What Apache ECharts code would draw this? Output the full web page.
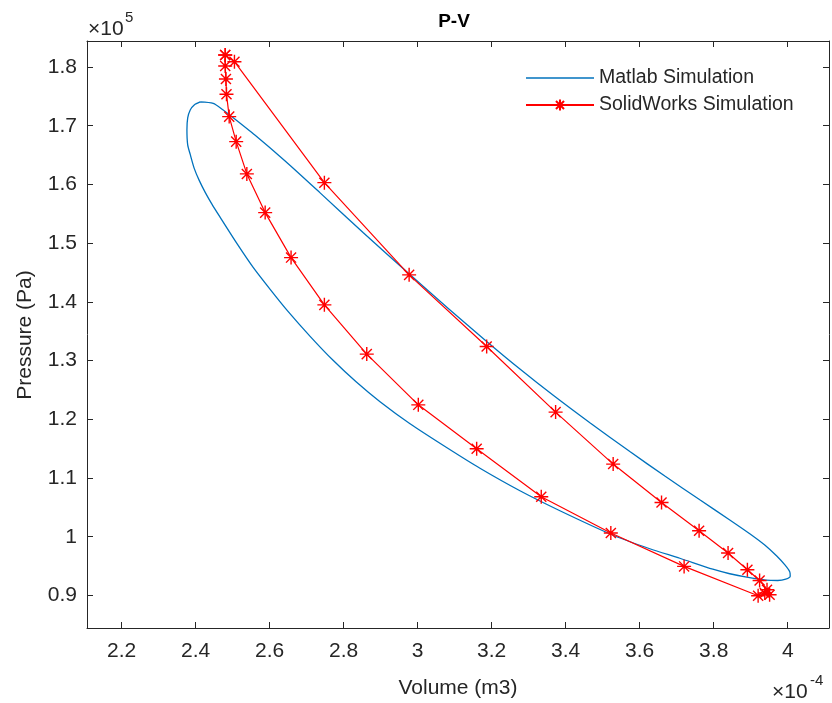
<!DOCTYPE html>
<html>
<head>
<meta charset="utf-8">
<script src="https://cdn.jsdelivr.net/npm/echarts@6/dist/echarts.min.js"></script>
<style>html,body{margin:0;padding:0;background:#fff}#c{width:832px;height:703px}</style>
</head>
<body>
<div id="c"></div>
<script>
// Volume in units of 1e-4 m3, Pressure in units of 1e5 Pa
const matlabV = [2.4125,2.4476,2.4746,2.4908,2.5610,2.6420,2.7365,2.8525,2.9767,3.0820,3.1873,3.2764,3.3655,3.4654,3.5734,3.6679,3.7624,3.8434,3.8974,3.9379,3.9703,3.9918,4.0054,4.0067,3.9946,3.9730,3.9405,3.8893,3.8434,3.7975,3.7084,3.6274,3.5221,3.3844,3.2764,3.1684,3.0793,2.9794,2.8984,2.8337,2.7715,2.7095,2.6474,2.6015,2.5556,2.5124,2.4665,2.4449,2.4260,2.4098,2.3963,2.3855,2.3787,2.3766,2.3787,2.3855,2.3963,2.4125];
const matlabP = [1.7405,1.7379,1.7269,1.7192,1.6838,1.6399,1.5856,1.5181,1.4477,1.3893,1.3322,1.2856,1.2412,1.1940,1.1450,1.1033,1.0628,1.0285,1.0050,0.9858,0.9671,0.9523,0.9403,0.9327,0.9276,0.9254,0.9262,0.9310,0.9369,0.9446,0.9633,0.9795,1.0042,1.0442,1.0782,1.1165,1.1514,1.1923,1.2298,1.2638,1.3004,1.3413,1.3855,1.4213,1.4587,1.4987,1.5439,1.5656,1.5865,1.6069,1.6274,1.6511,1.6673,1.6928,1.7132,1.7269,1.7354,1.7405];
const swV = [2.480,2.505,2.748,2.977,3.1865,3.3728,3.5283,3.659,3.7605,3.8388,3.891,3.924,3.944,3.951,3.938,3.920,3.720,3.522,3.334,3.1595,3.0018,2.8625,2.748,2.658,2.588,2.5385,2.5097,2.4908,2.4835,2.482,2.480,2.480];
const swP = [1.8205,1.809,1.603,1.446,1.3239,1.2122,1.1237,1.0583,1.0101,0.9722,0.9438,0.9255,0.9097,0.9012,0.9041,0.8995,0.9494,1.0062,1.068,1.1497,1.2246,1.311,1.3949,1.4754,1.552,1.6179,1.6729,1.7155,1.7536,1.7796,1.8018,1.8205];
const xTicks = [2.2,2.4,2.6,2.8,3.0,3.2,3.4,3.6,3.8,4.0];
const yTicks = [0.9,1.0,1.1,1.2,1.3,1.4,1.5,1.6,1.7,1.8];
const seriesNames = ['Matlab Simulation','SolidWorks Simulation'];

const FONT = 'Liberation Sans, Arial, Helvetica, sans-serif';
const AX = '#262626';
const fmt = v => String(Math.round(v * 10) / 10);
const star = 'path://M0,-1L0,1M-1,0L1,0M-0.72,-0.72L0.72,0.72M-0.72,0.72L0.72,-0.72';

const xMin = 2.1066, xMax = 4.1115, yMin = 0.8445, yMax = 1.8443;

function xAxisCfg(pos, labels) {
  return {
    type: 'value', position: pos, min: xMin, max: xMax,
    axisLine: { show: true, onZero: false, lineStyle: { color: AX, width: 1 } },
    axisTick: { show: true, inside: true, length: 6, customValues: xTicks, lineStyle: { color: AX } },
    axisLabel: { show: labels, customValues: xTicks, formatter: fmt, margin: 13, color: AX, fontSize: 21, fontFamily: FONT },
    splitLine: { show: false }
  };
}
function yAxisCfg(pos, labels) {
  return {
    type: 'value', position: pos, min: yMin, max: yMax,
    axisLine: { show: true, onZero: false, lineStyle: { color: AX, width: 1 } },
    axisTick: { show: true, inside: true, length: 6, customValues: yTicks, lineStyle: { color: AX } },
    axisLabel: { show: labels, customValues: yTicks, formatter: fmt, margin: 10, color: AX, fontSize: 21, fontFamily: FONT },
    splitLine: { show: false }
  };
}

const chart = echarts.init(document.getElementById('c'), null, { renderer: 'canvas' });
chart.setOption({
  animation: false,
  backgroundColor: '#fff',
  grid: { left: 87, right: 3, top: 41, bottom: 75, containLabel: false },
  xAxis: [xAxisCfg('bottom', true), xAxisCfg('top', false)],
  yAxis: [yAxisCfg('left', true), yAxisCfg('right', false)],
  legend: {
    orient: 'vertical', left: 520, top: 63, itemWidth: 68, itemHeight: 14, itemGap: 7,
    textStyle: { fontSize: 19.5, color: AX, fontFamily: FONT },
    data: [
      { name: seriesNames[0], icon: 'path://M0,0L68,0L68,1.3L0,1.3Z' },
      { name: seriesNames[1] }
    ]
  },
  graphic: [
    { type: 'text', x: 454, y: 22, style: { text: 'P-V', font: 'bold 19px ' + FONT, fill: '#000', align: 'center', verticalAlign: 'middle' } },
    { type: 'text', x: 458, y: 688, style: { text: 'Volume (m3)', font: '21px ' + FONT, fill: AX, align: 'center', verticalAlign: 'middle' } },
    { type: 'text', x: 25, y: 335, rotation: Math.PI / 2, style: { text: 'Pressure (Pa)', font: '21px ' + FONT, fill: AX, align: 'center', verticalAlign: 'middle' } },
    { type: 'text', x: 88, y: 29, style: { text: '\u00d710', font: '21px ' + FONT, fill: AX, align: 'left', verticalAlign: 'middle' } },
    { type: 'text', x: 125, y: 18, style: { text: '5', font: '15px ' + FONT, fill: AX, align: 'left', verticalAlign: 'middle' } },
    { type: 'text', x: 772, y: 692, style: { text: '\u00d710', font: '21px ' + FONT, fill: AX, align: 'left', verticalAlign: 'middle' } },
    { type: 'text', x: 810, y: 681, style: { text: '-4', font: '15px ' + FONT, fill: AX, align: 'left', verticalAlign: 'middle' } }
  ],
  series: [
    {
      name: seriesNames[0], type: 'line', xAxisIndex: 0, yAxisIndex: 0,
      data: matlabV.map((v, i) => [v, matlabP[i]]),
      showSymbol: false, symbol: 'none', smooth: 0.25,
      lineStyle: { color: '#0072BD', width: 1.3 }, itemStyle: { color: '#0072BD' }
    },
    {
      name: seriesNames[1], type: 'line', xAxisIndex: 0, yAxisIndex: 0,
      data: swV.map((v, i) => [v, swP[i]]),
      symbol: star, symbolSize: 14, showSymbol: true,
      lineStyle: { color: '#FF0000', width: 1.2 },
      itemStyle: { color: 'rgba(0,0,0,0)', borderColor: '#FF0000', borderWidth: 1.4 }
    }
  ]
});
</script>
</body>
</html>
